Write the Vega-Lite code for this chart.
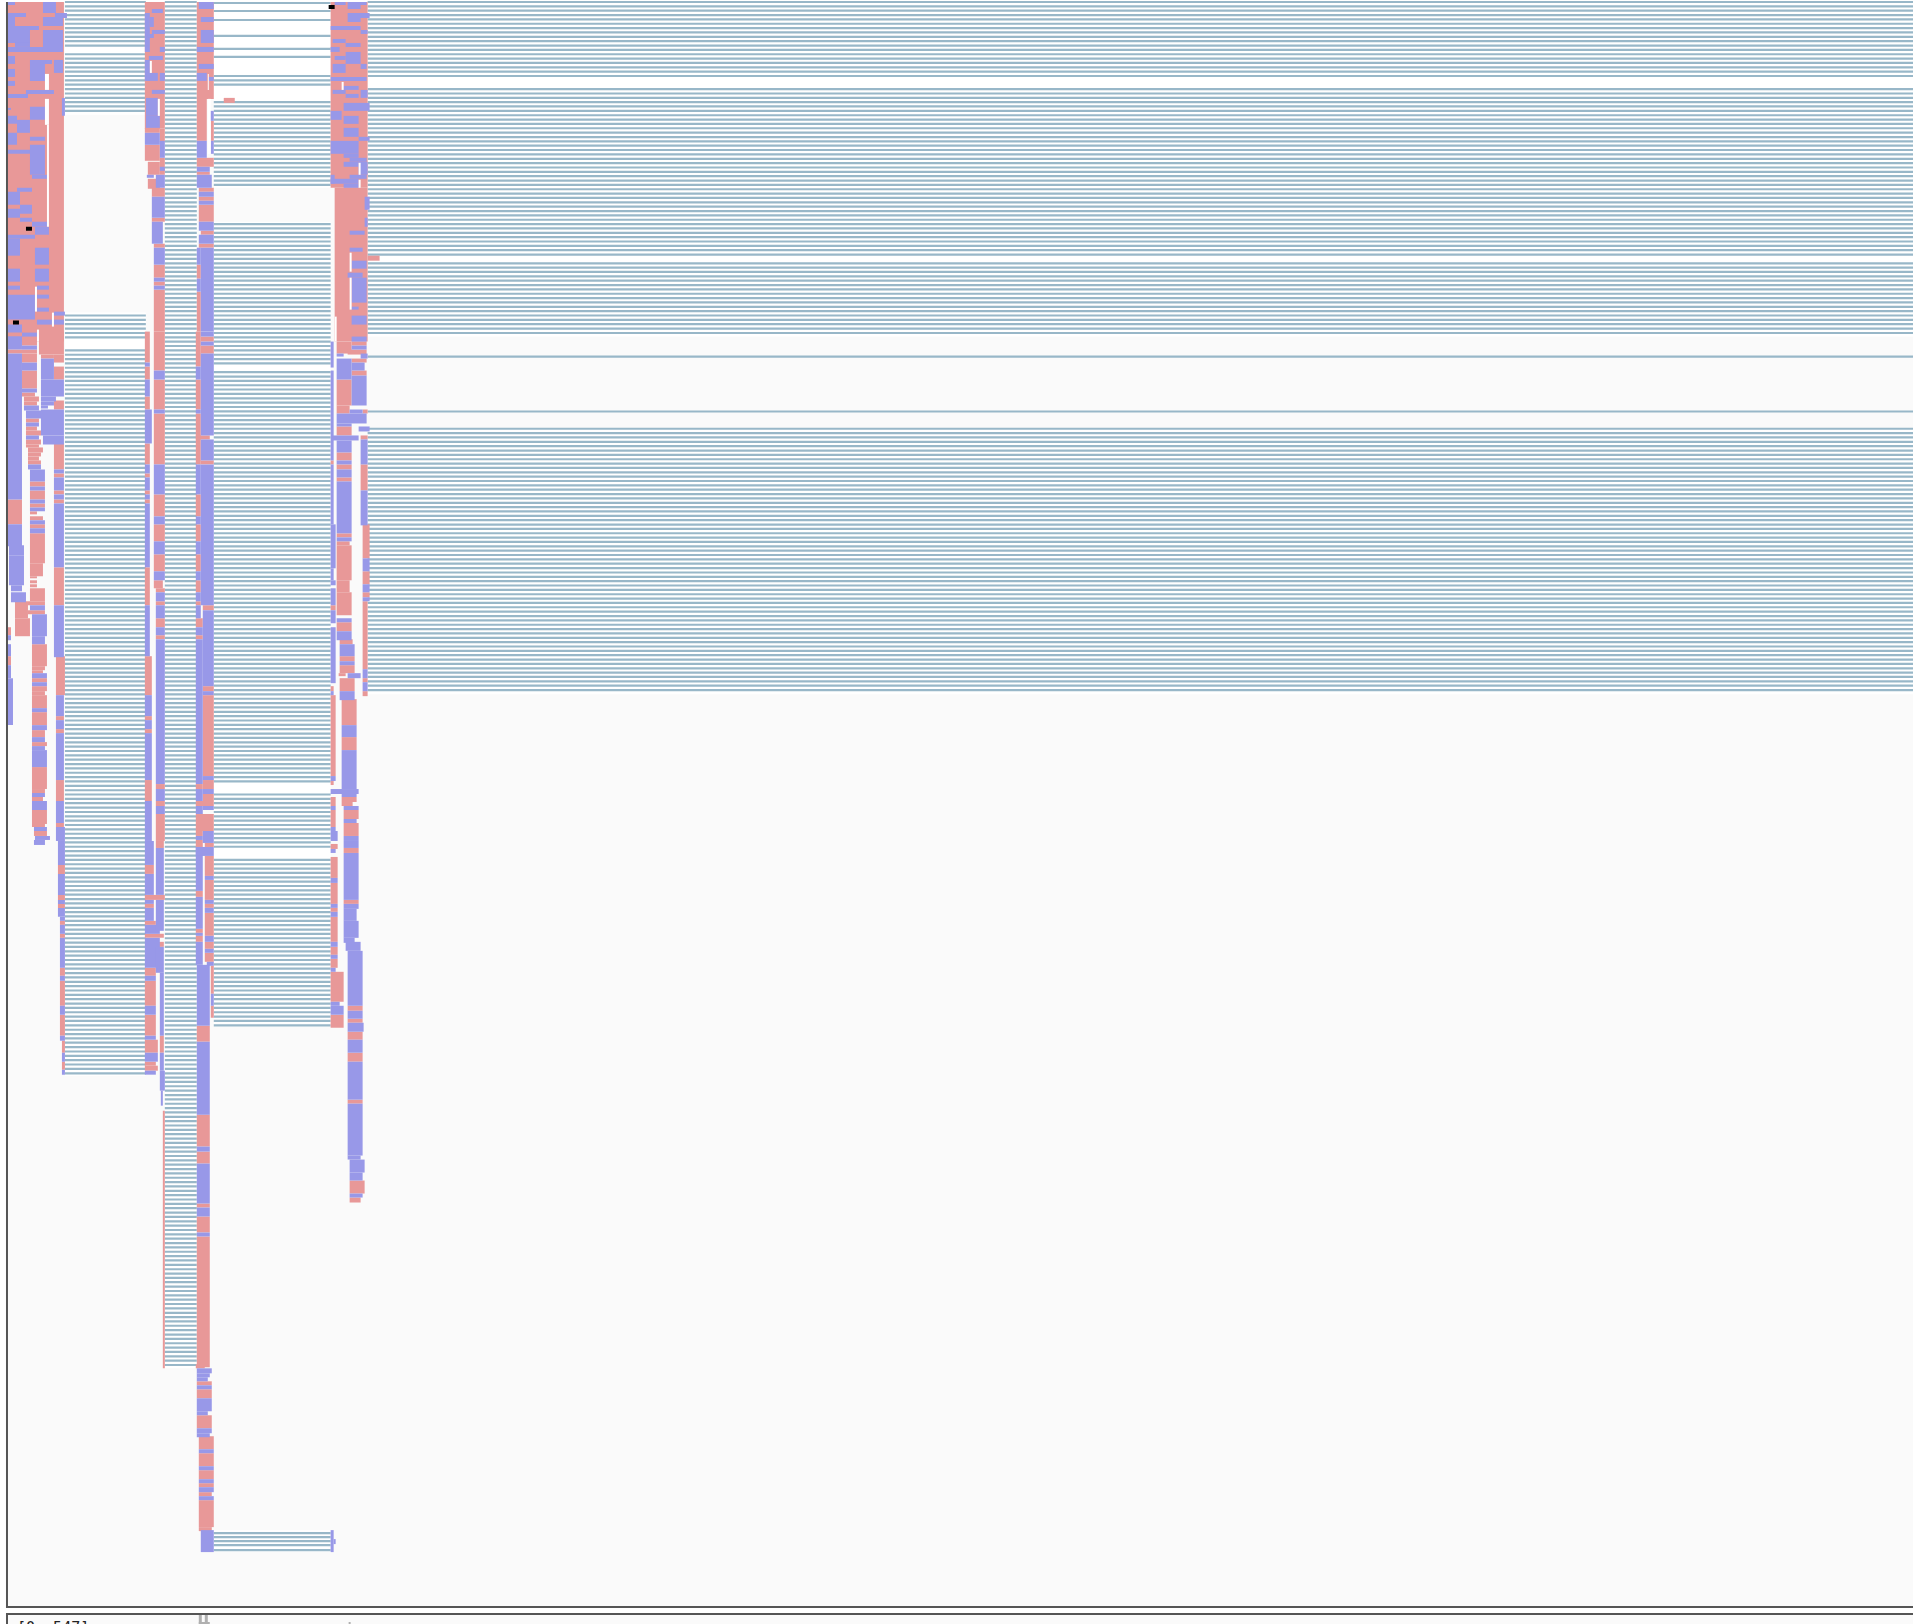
{"$schema":"https://vega.github.io/schema/vega-lite/v6.json","width":1915,"height":1624,"padding":0,"autosize":{"type":"fit","contains":"padding"},"background":"#ffffff","view":{"stroke":null},"config":{"axis":{"disable":true}},
"datasets":{
"panel":[{"a":8,"b":1915,"c":0,"d":1606},{"a":8,"b":1915,"c":1615,"d":1624}],
"border":[{"a":6,"b":8,"c":0,"d":1608},{"a":6,"b":1915,"c":1606,"d":1608},{"a":6,"b":1915,"c":1613,"d":1615},{"a":6,"b":8,"c":1613,"d":1624}],
"tick":[{"a":199,"b":202,"c":1615,"d":1624},{"a":205,"b":208,"c":1615,"d":1624},{"a":199,"b":210,"c":1622,"d":1624},{"a":349,"b":351,"c":1622,"d":1624}],
"clear":[{"a":65,"b":146,"c":0,"d":113},{"a":65,"b":146,"c":311,"d":1075},{"a":165,"b":197,"c":0,"d":1368},{"a":214,"b":331,"c":0,"d":186},{"a":214,"b":331,"c":220,"d":1026},{"a":214,"b":331,"c":1530,"d":1552},{"a":368,"b":1915,"c":0,"d":335},{"a":368,"b":1915,"c":427,"d":693}],
"sparse":[{"a":214,"b":331,"y":1},{"a":214,"b":331,"y":9},{"a":214,"b":331,"y":18},{"a":214,"b":331,"y":34},{"a":214,"b":331,"y":47},{"a":214,"b":331,"y":55},{"a":214,"b":331,"y":1533},{"a":214,"b":331,"y":1537},{"a":214,"b":331,"y":1541},{"a":214,"b":331,"y":1545},{"a":214,"b":331,"y":1550},{"a":368,"b":1915,"y":355},{"a":368,"b":1915,"y":410}],
"lat":[{"y":0},{"y":4.4},{"y":8.7},{"y":13.1},{"y":17.4},{"y":21.8},{"y":26.2},{"y":30.5},{"y":34.9},{"y":39.2},{"y":43.6},{"y":48},{"y":52.3},{"y":56.7},{"y":61},{"y":65.4},{"y":69.8},{"y":74.1},{"y":78.5},{"y":82.8},{"y":87.2},{"y":91.6},{"y":95.9},{"y":100.3},{"y":104.6},
{"y":109},{"y":113.4},{"y":117.7},{"y":122.1},{"y":126.4},{"y":130.8},{"y":135.2},{"y":139.5},{"y":143.9},{"y":148.2},{"y":152.6},{"y":157},{"y":161.3},{"y":165.7},{"y":170},{"y":174.4},{"y":178.8},{"y":183.1},{"y":187.5},{"y":191.8},{"y":196.2},{"y":200.6},{"y":204.9},{"y":209.3},{"y":213.6},
{"y":218},{"y":222.4},{"y":226.7},{"y":231.1},{"y":235.4},{"y":239.8},{"y":244.2},{"y":248.5},{"y":252.9},{"y":257.2},{"y":261.6},{"y":266},{"y":270.3},{"y":274.7},{"y":279},{"y":283.4},{"y":287.8},{"y":292.1},{"y":296.5},{"y":300.8},{"y":305.2},{"y":309.6},{"y":313.9},{"y":318.3},{"y":322.6},
{"y":327},{"y":331.4},{"y":335.7},{"y":340.1},{"y":344.4},{"y":348.8},{"y":353.2},{"y":357.5},{"y":361.9},{"y":366.2},{"y":370.6},{"y":375},{"y":379.3},{"y":383.7},{"y":388},{"y":392.4},{"y":396.8},{"y":401.1},{"y":405.5},{"y":409.8},{"y":414.2},{"y":418.6},{"y":422.9},{"y":427.3},{"y":431.6},
{"y":436},{"y":440.4},{"y":444.7},{"y":449.1},{"y":453.4},{"y":457.8},{"y":462.2},{"y":466.5},{"y":470.9},{"y":475.2},{"y":479.6},{"y":484},{"y":488.3},{"y":492.7},{"y":497},{"y":501.4},{"y":505.8},{"y":510.1},{"y":514.5},{"y":518.8},{"y":523.2},{"y":527.6},{"y":531.9},{"y":536.3},{"y":540.6},
{"y":545},{"y":549.4},{"y":553.7},{"y":558.1},{"y":562.4},{"y":566.8},{"y":571.2},{"y":575.5},{"y":579.9},{"y":584.2},{"y":588.6},{"y":593},{"y":597.3},{"y":601.7},{"y":606},{"y":610.4},{"y":614.8},{"y":619.1},{"y":623.5},{"y":627.8},{"y":632.2},{"y":636.6},{"y":640.9},{"y":645.3},{"y":649.6},
{"y":654},{"y":658.4},{"y":662.7},{"y":667.1},{"y":671.4},{"y":675.8},{"y":680.2},{"y":684.5},{"y":688.9},{"y":693.2},{"y":697.6},{"y":702},{"y":706.3},{"y":710.7},{"y":715},{"y":719.4},{"y":723.8},{"y":728.1},{"y":732.5},{"y":736.8},{"y":741.2},{"y":745.6},{"y":749.9},{"y":754.3},{"y":758.6},
{"y":763},{"y":767.4},{"y":771.7},{"y":776.1},{"y":780.4},{"y":784.8},{"y":789.2},{"y":793.5},{"y":797.9},{"y":802.2},{"y":806.6},{"y":811},{"y":815.3},{"y":819.7},{"y":824},{"y":828.4},{"y":832.8},{"y":837.1},{"y":841.5},{"y":845.8},{"y":850.2},{"y":854.6},{"y":858.9},{"y":863.3},{"y":867.6},
{"y":872},{"y":876.4},{"y":880.7},{"y":885.1},{"y":889.4},{"y":893.8},{"y":898.2},{"y":902.5},{"y":906.9},{"y":911.2},{"y":915.6},{"y":920},{"y":924.3},{"y":928.7},{"y":933},{"y":937.4},{"y":941.8},{"y":946.1},{"y":950.5},{"y":954.8},{"y":959.2},{"y":963.6},{"y":967.9},{"y":972.3},{"y":976.6},
{"y":981},{"y":985.4},{"y":989.7},{"y":994.1},{"y":998.4},{"y":1002.8},{"y":1007.2},{"y":1011.5},{"y":1015.9},{"y":1020.2},{"y":1024.6},{"y":1029},{"y":1033.3},{"y":1037.7},{"y":1042},{"y":1046.4},{"y":1050.8},{"y":1055.1},{"y":1059.5},{"y":1063.8},{"y":1068.2},{"y":1072.6},{"y":1076.9},{"y":1081.3},{"y":1085.6},
{"y":1090},{"y":1094.4},{"y":1098.7},{"y":1103.1},{"y":1107.4},{"y":1111.8},{"y":1116.2},{"y":1120.5},{"y":1124.9},{"y":1129.2},{"y":1133.6},{"y":1138},{"y":1142.3},{"y":1146.7},{"y":1151},{"y":1155.4},{"y":1159.8},{"y":1164.1},{"y":1168.5},{"y":1172.8},{"y":1177.2},{"y":1181.6},{"y":1185.9},{"y":1190.3},{"y":1194.6},
{"y":1199},{"y":1203.4},{"y":1207.7},{"y":1212.1},{"y":1216.4},{"y":1220.8},{"y":1225.2},{"y":1229.5},{"y":1233.9},{"y":1238.2},{"y":1242.6},{"y":1247},{"y":1251.3},{"y":1255.7},{"y":1260},{"y":1264.4},{"y":1268.8},{"y":1273.1},{"y":1277.5},{"y":1281.8},{"y":1286.2},{"y":1290.6},{"y":1294.9},{"y":1299.3},{"y":1303.6},
{"y":1308},{"y":1312.4},{"y":1316.7},{"y":1321.1},{"y":1325.4},{"y":1329.8},{"y":1334.2},{"y":1338.5},{"y":1342.9},{"y":1347.2},{"y":1351.6},{"y":1356},{"y":1360.3},{"y":1364.7}],
"pink":[{"a":8,"b":64,"c":0,"d":340},{"a":145,"b":165,"c":0,"d":127},{"a":197,"b":214,"c":0,"d":97},{"a":331,"b":368,"c":0,"d":186},{"a":335,"b":368,"c":186,"d":340},{"a":224,"b":235,"c":96,"d":101},{"a":368,"b":380,"c":254,"d":259},
{"a":8,"b":22,"c":498,"d":523},{"a":8,"b":37,"c":348,"d":352},{"a":15,"b":28,"c":600,"d":617},{"a":15,"b":30,"c":617,"d":635},{"a":8,"b":11,"c":626,"d":634},{"a":8,"b":11,"c":655,"d":664},
{"a":22,"b":37,"c":335,"d":344},{"a":22,"b":37,"c":352,"d":361},{"a":22,"b":37,"c":369,"d":387},{"a":22,"b":35,"c":391,"d":395},{"a":24,"b":39,"c":395,"d":400},{"a":24,"b":37,"c":400,"d":404},{"a":26,"b":39,"c":417,"d":421},{"a":26,"b":37,"c":425,"d":429},{"a":26,"b":41,"c":429,"d":434},{"a":26,"b":41,"c":438,"d":443},{"a":26,"b":39,"c":443,"d":446},{"a":28,"b":43,"c":446,"d":451},{"a":28,"b":41,"c":451,"d":455},{"a":28,"b":39,"c":455,"d":459},{"a":28,"b":41,"c":459,"d":463},{"a":30,"b":45,"c":480,"d":485},{"a":30,"b":45,"c":489,"d":498},{"a":30,"b":45,"c":502,"d":506},{"a":30,"b":37,"c":510,"d":513},{"a":30,"b":43,"c":515,"d":519},{"a":30,"b":45,"c":523,"d":527},{"a":30,"b":45,"c":532,"d":562},{"a":30,"b":43,"c":562,"d":575},{"a":30,"b":37,"c":575,"d":577},{"a":30,"b":37,"c":579,"d":582},{"a":30,"b":37,"c":583,"d":586},{"a":30,"b":45,"c":587,"d":600},{"a":28,"b":45,"c":600,"d":604},{"a":28,"b":45,"c":609,"d":613},{"a":32,"b":47,"c":643,"d":665},{"a":32,"b":45,"c":665,"d":669},{"a":32,"b":43,"c":669,"d":672},{"a":32,"b":47,"c":677,"d":681},{"a":32,"b":47,"c":685,"d":690},{"a":32,"b":45,"c":690,"d":694},{"a":32,"b":47,"c":694,"d":707},{"a":32,"b":47,"c":711,"d":724},{"a":32,"b":45,"c":729,"d":736},{"a":32,"b":47,"c":741,"d":745},{"a":32,"b":47,"c":766,"d":788},{"a":32,"b":45,"c":788,"d":792},{"a":32,"b":43,"c":796,"d":800},{"a":32,"b":47,"c":809,"d":823},{"a":32,"b":45,"c":823,"d":826},{"a":34,"b":47,"c":830,"d":835},
{"a":39,"b":64,"c":330,"d":353},{"a":41,"b":54,"c":353,"d":357},{"a":54,"b":64,"c":353,"d":361},{"a":54,"b":64,"c":365,"d":378},{"a":54,"b":64,"c":399,"d":408},{"a":54,"b":64,"c":442,"d":468},{"a":54,"b":64,"c":472,"d":476},{"a":54,"b":64,"c":489,"d":493},{"a":54,"b":64,"c":498,"d":502},{"a":54,"b":64,"c":566,"d":604},{"a":56,"b":65,"c":655,"d":694},{"a":56,"b":64,"c":715,"d":719},{"a":56,"b":64,"c":728,"d":732},{"a":56,"b":64,"c":779,"d":800},{"a":56,"b":64,"c":822,"d":826},
{"a":58,"b":65,"c":864,"d":873},{"a":58,"b":65,"c":894,"d":899},{"a":58,"b":65,"c":903,"d":907},{"a":60,"b":65,"c":920,"d":924},{"a":60,"b":65,"c":933,"d":937},{"a":60,"b":65,"c":967,"d":975},{"a":60,"b":65,"c":980,"d":1005},{"a":60,"b":65,"c":1014,"d":1035},{"a":62,"b":65,"c":1040,"d":1052},{"a":62,"b":65,"c":1061,"d":1069},
{"a":145,"b":154,"c":864,"d":873},{"a":145,"b":165,"c":894,"d":899},{"a":145,"b":154,"c":903,"d":907},{"a":145,"b":156,"c":920,"d":924},{"a":145,"b":164,"c":933,"d":937},{"a":145,"b":156,"c":967,"d":975},{"a":145,"b":156,"c":980,"d":1005},{"a":145,"b":156,"c":1014,"d":1035},{"a":145,"b":158,"c":1039,"d":1052},{"a":145,"b":156,"c":1061,"d":1065},{"a":145,"b":158,"c":1065,"d":1070},{"a":156,"b":164,"c":840,"d":847},{"a":156,"b":164,"c":941,"d":946},{"a":160,"b":164,"c":1035,"d":1052},{"a":163,"b":165,"c":1110,"d":1368},
{"a":145,"b":150,"c":330,"d":361},{"a":145,"b":150,"c":365,"d":378},{"a":145,"b":150,"c":395,"d":408},{"a":145,"b":150,"c":442,"d":463},{"a":145,"b":150,"c":472,"d":476},{"a":145,"b":150,"c":489,"d":493},{"a":145,"b":150,"c":498,"d":502},{"a":145,"b":150,"c":566,"d":604},{"a":145,"b":152,"c":655,"d":694},{"a":145,"b":152,"c":715,"d":719},{"a":145,"b":152,"c":728,"d":732},{"a":145,"b":152,"c":779,"d":800},
{"a":154,"b":165,"c":330,"d":369},{"a":154,"b":165,"c":378,"d":408},{"a":154,"b":165,"c":412,"d":463},{"a":154,"b":165,"c":493,"d":515},{"a":154,"b":165,"c":523,"d":540},{"a":154,"b":165,"c":553,"d":570},{"a":154,"b":163,"c":579,"d":587},{"a":156,"b":165,"c":587,"d":591},{"a":156,"b":165,"c":600,"d":604},{"a":156,"b":165,"c":617,"d":626},{"a":156,"b":165,"c":634,"d":638},{"a":156,"b":165,"c":783,"d":788},{"a":156,"b":165,"c":800,"d":805},{"a":156,"b":165,"c":813,"d":840},
{"a":196,"b":201,"c":330,"d":365},{"a":196,"b":201,"c":378,"d":408},{"a":196,"b":201,"c":412,"d":463},{"a":196,"b":210,"c":434,"d":438},{"a":196,"b":201,"c":493,"d":515},{"a":196,"b":201,"c":523,"d":540},{"a":196,"b":201,"c":553,"d":570},{"a":196,"b":201,"c":579,"d":591},{"a":196,"b":201,"c":600,"d":604},{"a":196,"b":203,"c":617,"d":626},{"a":196,"b":203,"c":634,"d":638},{"a":196,"b":203,"c":783,"d":788},{"a":196,"b":214,"c":800,"d":805},{"a":196,"b":214,"c":813,"d":830},
{"a":201,"b":214,"c":335,"d":340},{"a":201,"b":214,"c":344,"d":352},{"a":201,"b":214,"c":459,"d":463},{"a":203,"b":214,"c":604,"d":609},{"a":203,"b":214,"c":685,"d":690},{"a":203,"b":214,"c":694,"d":775},{"a":203,"b":214,"c":779,"d":788},{"a":203,"b":214,"c":793,"d":800},
{"a":196,"b":203,"c":830,"d":835},{"a":196,"b":203,"c":839,"d":846},{"a":196,"b":203,"c":890,"d":896},{"a":196,"b":203,"c":928,"d":932},{"a":196,"b":203,"c":935,"d":941},{"a":197,"b":210,"c":1025,"d":1041},{"a":197,"b":210,"c":1114,"d":1146},{"a":197,"b":210,"c":1151,"d":1163},{"a":197,"b":210,"c":1203,"d":1207},{"a":197,"b":210,"c":1216,"d":1232},{"a":197,"b":210,"c":1236,"d":1367},{"a":196,"b":205,"c":1364,"d":1368},
{"a":205,"b":214,"c":842,"d":846},{"a":205,"b":214,"c":855,"d":875},{"a":205,"b":214,"c":879,"d":899},{"a":205,"b":214,"c":903,"d":907},{"a":205,"b":214,"c":912,"d":935},{"a":205,"b":214,"c":941,"d":948},{"a":205,"b":214,"c":952,"d":961},{"a":211,"b":214,"c":965,"d":993},{"a":211,"b":214,"c":1005,"d":1017},
{"a":197,"b":212,"c":1381,"d":1385},{"a":197,"b":212,"c":1389,"d":1398},{"a":197,"b":212,"c":1415,"d":1428},{"a":199,"b":214,"c":1436,"d":1449},{"a":199,"b":214,"c":1453,"d":1466},{"a":199,"b":214,"c":1470,"d":1479},{"a":199,"b":214,"c":1483,"d":1487},{"a":199,"b":212,"c":1492,"d":1496},{"a":199,"b":214,"c":1500,"d":1527},{"a":199,"b":212,"c":1527,"d":1531},
{"a":160,"b":165,"c":127,"d":140},{"a":145,"b":160,"c":126,"d":131},{"a":145,"b":160,"c":143,"d":159},{"a":148,"b":160,"c":160,"d":173},{"a":160,"b":165,"c":156,"d":173},{"a":148,"b":160,"c":177,"d":187},{"a":152,"b":165,"c":186,"d":195},{"a":152,"b":165,"c":216,"d":220},{"a":154,"b":165,"c":242,"d":246},{"a":154,"b":165,"c":263,"d":276},{"a":154,"b":165,"c":280,"d":284},{"a":154,"b":165,"c":288,"d":330},
{"a":197,"b":207,"c":97,"d":139},{"a":211,"b":214,"c":119,"d":139},{"a":197,"b":214,"c":156,"d":165},{"a":197,"b":210,"c":170,"d":173},{"a":199,"b":214,"c":186,"d":190},{"a":199,"b":214,"c":195,"d":199},{"a":199,"b":214,"c":203,"d":220},{"a":201,"b":214,"c":229,"d":233},{"a":199,"b":214,"c":242,"d":246},{"a":197,"b":201,"c":263,"d":277},{"a":197,"b":201,"c":290,"d":330},
{"a":331,"b":334,"c":459,"d":463},{"a":331,"b":336,"c":604,"d":609},{"a":331,"b":334,"c":685,"d":690},{"a":331,"b":336,"c":694,"d":775},{"a":331,"b":334,"c":780,"d":784},{"a":331,"b":336,"c":796,"d":805},{"a":331,"b":336,"c":809,"d":826},
{"a":337,"b":352,"c":340,"d":352},{"a":337,"b":352,"c":378,"d":404},{"a":337,"b":350,"c":404,"d":412},{"a":337,"b":352,"c":425,"d":434},{"a":337,"b":352,"c":451,"d":459},{"a":337,"b":352,"c":463,"d":468},{"a":337,"b":352,"c":476,"d":480},{"a":337,"b":352,"c":532,"d":536},{"a":337,"b":350,"c":540,"d":544},{"a":337,"b":352,"c":544,"d":579},{"a":337,"b":350,"c":579,"d":591},{"a":337,"b":352,"c":591,"d":614},{"a":337,"b":352,"c":621,"d":630},{"a":340,"b":353,"c":638,"d":643},{"a":340,"b":355,"c":655,"d":660},{"a":340,"b":355,"c":664,"d":672},{"a":339,"b":346,"c":672,"d":675},{"a":340,"b":355,"c":677,"d":690},{"a":342,"b":357,"c":698,"d":724},{"a":342,"b":357,"c":736,"d":749},{"a":342,"b":357,"c":796,"d":801},{"a":342,"b":353,"c":801,"d":805},{"a":344,"b":359,"c":809,"d":818},{"a":344,"b":359,"c":822,"d":835},
{"a":352,"b":367,"c":340,"d":344},{"a":348,"b":367,"c":348,"d":353},{"a":352,"b":367,"c":357,"d":361},{"a":352,"b":367,"c":369,"d":374},{"a":363,"b":368,"c":408,"d":412},{"a":361,"b":368,"c":434,"d":438},{"a":361,"b":368,"c":463,"d":489},{"a":363,"b":370,"c":523,"d":557},{"a":363,"b":370,"c":570,"d":583},{"a":363,"b":370,"c":591,"d":596},{"a":363,"b":368,"c":600,"d":668},{"a":363,"b":368,"c":677,"d":681},{"a":363,"b":368,"c":690,"d":695},
{"a":331,"b":338,"c":843,"d":848},{"a":331,"b":338,"c":856,"d":877},{"a":331,"b":338,"c":882,"d":903},{"a":331,"b":338,"c":907,"d":911},{"a":331,"b":338,"c":916,"d":941},{"a":331,"b":338,"c":946,"d":954},{"a":331,"b":338,"c":958,"d":967},{"a":331,"b":344,"c":971,"d":1001},{"a":331,"b":344,"c":1014,"d":1027},
{"a":344,"b":359,"c":847,"d":852},{"a":344,"b":359,"c":899,"d":903},{"a":348,"b":363,"c":1005,"d":1010},{"a":348,"b":363,"c":1018,"d":1022},{"a":348,"b":363,"c":1031,"d":1039},{"a":348,"b":363,"c":1052,"d":1061},{"a":348,"b":363,"c":1099,"d":1103},{"a":350,"b":365,"c":1180,"d":1193},{"a":350,"b":361,"c":1197,"d":1202}],
"blue":[{"a":8,"b":15,"c":0,"d":3},{"a":43,"b":56,"c":0,"d":11},{"a":8,"b":26,"c":11,"d":15},{"a":55,"b":67,"c":11,"d":16},{"a":8,"b":15,"c":15,"d":24},{"a":43,"b":63,"c":15,"d":24},{"a":8,"b":39,"c":24,"d":28},{"a":8,"b":30,"c":28,"d":41},{"a":15,"b":30,"c":41,"d":45},{"a":43,"b":63,"c":28,"d":50},{"a":8,"b":43,"c":45,"d":50},{"a":8,"b":15,"c":54,"d":62},{"a":30,"b":52,"c":58,"d":62},{"a":30,"b":45,"c":62,"d":79},{"a":54,"b":63,"c":58,"d":71},{"a":8,"b":15,"c":67,"d":75},{"a":8,"b":15,"c":79,"d":84},{"a":26,"b":54,"c":88,"d":92},{"a":8,"b":28,"c":92,"d":96},{"a":30,"b":45,"c":105,"d":118},{"a":8,"b":11,"c":106,"d":108},{"a":8,"b":17,"c":114,"d":122},{"a":17,"b":30,"c":118,"d":131},{"a":8,"b":17,"c":131,"d":143},{"a":30,"b":45,"c":135,"d":139},{"a":30,"b":45,"c":143,"d":173},{"a":8,"b":30,"c":148,"d":152},{"a":32,"b":47,"c":173,"d":177},{"a":17,"b":32,"c":186,"d":190},{"a":8,"b":20,"c":190,"d":203},{"a":20,"b":32,"c":203,"d":212},{"a":8,"b":20,"c":207,"d":216},{"a":20,"b":32,"c":216,"d":220},{"a":32,"b":47,"c":220,"d":225},{"a":35,"b":49,"c":225,"d":233},{"a":8,"b":35,"c":233,"d":237},{"a":8,"b":20,"c":237,"d":254},{"a":35,"b":49,"c":246,"d":263},{"a":8,"b":20,"c":267,"d":280},{"a":35,"b":49,"c":267,"d":280},{"a":8,"b":20,"c":284,"d":288},{"a":37,"b":49,"c":284,"d":288},{"a":37,"b":49,"c":293,"d":297},{"a":8,"b":35,"c":293,"d":318},{"a":37,"b":49,"c":306,"d":310},{"a":54,"b":65,"c":310,"d":314},{"a":37,"b":52,"c":318,"d":323},{"a":54,"b":64,"c":318,"d":323},{"a":8,"b":22,"c":323,"d":331},{"a":22,"b":37,"c":331,"d":335},{"a":8,"b":22,"c":335,"d":340},{"a":62,"b":65,"c":96,"d":114},
{"a":8,"b":22,"c":335,"d":348},{"a":8,"b":22,"c":352,"d":498},{"a":8,"b":22,"c":523,"d":545},{"a":9,"b":24,"c":544,"d":554},{"a":9,"b":24,"c":554,"d":584},{"a":11,"b":22,"c":584,"d":590},{"a":11,"b":26,"c":591,"d":601},{"a":8,"b":11,"c":634,"d":639},{"a":8,"b":11,"c":643,"d":655},{"a":8,"b":11,"c":664,"d":677},{"a":8,"b":13,"c":677,"d":724},
{"a":22,"b":37,"c":344,"d":348},{"a":22,"b":37,"c":361,"d":369},{"a":22,"b":37,"c":387,"d":391},{"a":24,"b":39,"c":404,"d":409},{"a":26,"b":63,"c":409,"d":417},{"a":26,"b":39,"c":421,"d":425},{"a":26,"b":39,"c":434,"d":438},{"a":28,"b":41,"c":463,"d":468},{"a":30,"b":45,"c":468,"d":480},{"a":30,"b":45,"c":485,"d":489},{"a":30,"b":45,"c":498,"d":502},{"a":30,"b":45,"c":506,"d":510},{"a":30,"b":45,"c":519,"d":523},{"a":30,"b":45,"c":527,"d":532},{"a":30,"b":45,"c":604,"d":609},{"a":32,"b":47,"c":613,"d":635},{"a":32,"b":45,"c":635,"d":643},{"a":32,"b":47,"c":672,"d":677},{"a":32,"b":47,"c":681,"d":685},{"a":32,"b":47,"c":707,"d":711},{"a":32,"b":47,"c":724,"d":729},{"a":32,"b":45,"c":736,"d":741},{"a":32,"b":45,"c":745,"d":749},{"a":32,"b":47,"c":749,"d":766},{"a":32,"b":45,"c":792,"d":796},{"a":32,"b":47,"c":800,"d":809},{"a":34,"b":47,"c":826,"d":830},{"a":35,"b":50,"c":835,"d":839},{"a":34,"b":45,"c":839,"d":844},
{"a":41,"b":54,"c":357,"d":378},{"a":41,"b":64,"c":378,"d":395},{"a":41,"b":56,"c":395,"d":400},{"a":41,"b":54,"c":400,"d":404},{"a":41,"b":48,"c":404,"d":407},{"a":41,"b":64,"c":408,"d":434},{"a":43,"b":64,"c":434,"d":443},{"a":54,"b":64,"c":468,"d":472},{"a":54,"b":64,"c":476,"d":489},{"a":54,"b":64,"c":493,"d":498},{"a":54,"b":64,"c":502,"d":566},{"a":54,"b":64,"c":604,"d":656},{"a":56,"b":64,"c":694,"d":715},{"a":56,"b":64,"c":719,"d":728},{"a":56,"b":64,"c":732,"d":779},{"a":56,"b":64,"c":800,"d":822},{"a":56,"b":65,"c":826,"d":840},
{"a":58,"b":65,"c":840,"d":864},{"a":58,"b":65,"c":873,"d":894},{"a":58,"b":65,"c":899,"d":903},{"a":58,"b":65,"c":907,"d":916},{"a":60,"b":65,"c":916,"d":920},{"a":60,"b":65,"c":924,"d":933},{"a":60,"b":65,"c":937,"d":967},{"a":60,"b":65,"c":975,"d":980},{"a":60,"b":65,"c":1005,"d":1014},{"a":60,"b":65,"c":1035,"d":1040},{"a":62,"b":65,"c":1052,"d":1061},{"a":62,"b":65,"c":1069,"d":1074},
{"a":145,"b":154,"c":840,"d":864},{"a":145,"b":154,"c":873,"d":894},{"a":145,"b":154,"c":899,"d":903},{"a":145,"b":154,"c":907,"d":920},{"a":145,"b":160,"c":924,"d":933},{"a":145,"b":160,"c":937,"d":967},{"a":145,"b":156,"c":975,"d":980},{"a":145,"b":156,"c":1005,"d":1014},{"a":145,"b":156,"c":1035,"d":1039},{"a":145,"b":158,"c":1052,"d":1061},{"a":145,"b":156,"c":1070,"d":1074},{"a":156,"b":164,"c":847,"d":894},{"a":156,"b":164,"c":899,"d":930},{"a":156,"b":164,"c":946,"d":972},{"a":160,"b":164,"c":972,"d":1035},{"a":160,"b":164,"c":1052,"d":1070},{"a":160,"b":165,"c":1070,"d":1090},{"a":161,"b":163,"c":1090,"d":1105},
{"a":145,"b":150,"c":361,"d":365},{"a":145,"b":150,"c":378,"d":395},{"a":145,"b":152,"c":408,"d":442},{"a":145,"b":150,"c":463,"d":472},{"a":145,"b":150,"c":476,"d":489},{"a":145,"b":150,"c":493,"d":498},{"a":145,"b":150,"c":502,"d":566},{"a":145,"b":150,"c":604,"d":655},{"a":145,"b":152,"c":694,"d":715},{"a":145,"b":152,"c":719,"d":728},{"a":145,"b":152,"c":732,"d":779},{"a":145,"b":152,"c":800,"d":840},
{"a":154,"b":165,"c":369,"d":378},{"a":154,"b":165,"c":408,"d":412},{"a":154,"b":165,"c":463,"d":493},{"a":154,"b":165,"c":515,"d":523},{"a":154,"b":165,"c":540,"d":553},{"a":154,"b":165,"c":570,"d":579},{"a":156,"b":165,"c":591,"d":600},{"a":156,"b":165,"c":604,"d":617},{"a":156,"b":165,"c":626,"d":634},{"a":156,"b":165,"c":638,"d":783},{"a":156,"b":165,"c":788,"d":800},{"a":156,"b":165,"c":805,"d":813},
{"a":196,"b":201,"c":365,"d":378},{"a":196,"b":201,"c":408,"d":412},{"a":196,"b":201,"c":463,"d":493},{"a":196,"b":201,"c":515,"d":523},{"a":196,"b":201,"c":540,"d":553},{"a":196,"b":201,"c":570,"d":579},{"a":196,"b":201,"c":591,"d":600},{"a":196,"b":201,"c":604,"d":617},{"a":196,"b":203,"c":626,"d":634},{"a":196,"b":203,"c":638,"d":783},{"a":196,"b":203,"c":788,"d":800},{"a":196,"b":203,"c":805,"d":813},
{"a":201,"b":214,"c":330,"d":335},{"a":201,"b":214,"c":340,"d":344},{"a":201,"b":214,"c":352,"d":434},{"a":201,"b":214,"c":438,"d":459},{"a":201,"b":214,"c":463,"d":604},{"a":203,"b":214,"c":609,"d":685},{"a":203,"b":214,"c":690,"d":694},{"a":203,"b":214,"c":775,"d":779},{"a":203,"b":214,"c":788,"d":793},{"a":203,"b":214,"c":805,"d":809},
{"a":196,"b":203,"c":835,"d":839},{"a":196,"b":203,"c":846,"d":890},{"a":196,"b":203,"c":896,"d":928},{"a":196,"b":203,"c":932,"d":935},{"a":196,"b":203,"c":941,"d":964},{"a":197,"b":210,"c":964,"d":1025},{"a":197,"b":210,"c":1041,"d":1114},{"a":197,"b":210,"c":1146,"d":1151},{"a":197,"b":210,"c":1163,"d":1203},{"a":197,"b":210,"c":1207,"d":1216},{"a":197,"b":210,"c":1232,"d":1236},{"a":197,"b":212,"c":1368,"d":1373},{"a":197,"b":210,"c":1373,"d":1377},{"a":197,"b":208,"c":1377,"d":1381},
{"a":203,"b":214,"c":830,"d":842},{"a":196,"b":214,"c":846,"d":855},{"a":205,"b":214,"c":875,"d":879},{"a":205,"b":214,"c":899,"d":903},{"a":205,"b":214,"c":907,"d":912},{"a":205,"b":214,"c":935,"d":941},{"a":205,"b":214,"c":948,"d":952},{"a":207,"b":214,"c":961,"d":965},{"a":211,"b":214,"c":993,"d":1005},
{"a":197,"b":212,"c":1385,"d":1389},{"a":197,"b":212,"c":1398,"d":1411},{"a":197,"b":208,"c":1411,"d":1415},{"a":197,"b":212,"c":1428,"d":1433},{"a":197,"b":210,"c":1433,"d":1437},{"a":199,"b":214,"c":1449,"d":1453},{"a":199,"b":214,"c":1466,"d":1470},{"a":199,"b":214,"c":1479,"d":1483},{"a":199,"b":214,"c":1487,"d":1492},{"a":199,"b":214,"c":1496,"d":1500},{"a":201,"b":214,"c":1530,"d":1552},{"a":331,"b":334,"c":1530,"d":1552},{"a":334,"b":336,"c":1539,"d":1544},
{"a":152,"b":163,"c":7,"d":11},{"a":145,"b":150,"c":11,"d":50},{"a":150,"b":154,"c":15,"d":25},{"a":152,"b":165,"c":28,"d":32},{"a":148,"b":154,"c":32,"d":36},{"a":160,"b":165,"c":45,"d":50},{"a":149,"b":163,"c":54,"d":58},{"a":145,"b":150,"c":58,"d":79},{"a":147,"b":158,"c":71,"d":79},{"a":160,"b":165,"c":71,"d":79},{"a":152,"b":165,"c":88,"d":92},{"a":146,"b":158,"c":96,"d":114},{"a":146,"b":160,"c":114,"d":126},{"a":145,"b":160,"c":131,"d":143},{"a":160,"b":165,"c":139,"d":156},{"a":160,"b":165,"c":165,"d":169},{"a":147,"b":154,"c":173,"d":176},{"a":156,"b":165,"c":173,"d":186},{"a":152,"b":165,"c":195,"d":216},{"a":152,"b":163,"c":220,"d":242},{"a":154,"b":165,"c":246,"d":263},{"a":154,"b":165,"c":276,"d":280},{"a":154,"b":165,"c":284,"d":288},
{"a":199,"b":214,"c":0,"d":7},{"a":201,"b":214,"c":15,"d":20},{"a":201,"b":214,"c":28,"d":41},{"a":197,"b":214,"c":45,"d":50},{"a":199,"b":214,"c":62,"d":67},{"a":197,"b":207,"c":71,"d":79},{"a":209,"b":214,"c":75,"d":79},{"a":209,"b":214,"c":109,"d":119},{"a":197,"b":207,"c":139,"d":156},{"a":211,"b":214,"c":139,"d":152},{"a":197,"b":210,"c":165,"d":170},{"a":197,"b":212,"c":173,"d":186},{"a":199,"b":214,"c":190,"d":195},{"a":199,"b":214,"c":199,"d":203},{"a":199,"b":214,"c":220,"d":229},{"a":199,"b":214,"c":233,"d":242},{"a":201,"b":214,"c":246,"d":330},{"a":197,"b":201,"c":246,"d":263},{"a":197,"b":201,"c":277,"d":290},
{"a":335,"b":346,"c":0,"d":3},{"a":348,"b":361,"c":0,"d":7},{"a":357,"b":367,"c":0,"d":3},{"a":348,"b":370,"c":11,"d":16},{"a":348,"b":361,"c":16,"d":20},{"a":331,"b":361,"c":24,"d":28},{"a":361,"b":368,"c":28,"d":32},{"a":333,"b":346,"c":37,"d":41},{"a":346,"b":361,"c":41,"d":45},{"a":331,"b":340,"c":45,"d":50},{"a":346,"b":361,"c":50,"d":62},{"a":335,"b":346,"c":54,"d":58},{"a":333,"b":346,"c":62,"d":71},{"a":361,"b":367,"c":62,"d":67},{"a":331,"b":367,"c":75,"d":79},{"a":344,"b":359,"c":84,"d":88},{"a":361,"b":368,"c":88,"d":96},{"a":333,"b":346,"c":88,"d":92},{"a":346,"b":359,"c":92,"d":96},{"a":344,"b":370,"c":101,"d":109},{"a":331,"b":342,"c":109,"d":118},{"a":344,"b":359,"c":114,"d":122},{"a":344,"b":359,"c":126,"d":135},{"a":359,"b":370,"c":135,"d":139},{"a":331,"b":359,"c":139,"d":152},{"a":344,"b":359,"c":152,"d":156},{"a":350,"b":367,"c":156,"d":160},{"a":344,"b":359,"c":160,"d":165},{"a":359,"b":368,"c":160,"d":173},{"a":331,"b":335,"c":173,"d":182},{"a":350,"b":367,"c":173,"d":177},{"a":331,"b":359,"c":177,"d":182},{"a":344,"b":359,"c":182,"d":186},{"a":365,"b":370,"c":195,"d":208},{"a":365,"b":368,"c":216,"d":225},{"a":350,"b":365,"c":229,"d":233},{"a":350,"b":363,"c":246,"d":250},{"a":352,"b":367,"c":259,"d":267},{"a":348,"b":363,"c":271,"d":276},{"a":352,"b":367,"c":276,"d":301},{"a":352,"b":359,"c":305,"d":308},{"a":352,"b":367,"c":314,"d":323},{"a":352,"b":367,"c":335,"d":340},
{"a":331,"b":334,"c":340,"d":366},{"a":331,"b":334,"c":369,"d":459},{"a":331,"b":334,"c":463,"d":523},{"a":331,"b":336,"c":523,"d":567},{"a":331,"b":334,"c":567,"d":579},{"a":331,"b":336,"c":579,"d":584},{"a":331,"b":336,"c":587,"d":604},{"a":331,"b":336,"c":609,"d":622},{"a":331,"b":336,"c":626,"d":682},{"a":331,"b":334,"c":690,"d":694},{"a":331,"b":336,"c":775,"d":780},{"a":331,"b":359,"c":788,"d":793},{"a":331,"b":336,"c":805,"d":809},{"a":331,"b":336,"c":826,"d":830},{"a":331,"b":338,"c":830,"d":840},
{"a":337,"b":344,"c":352,"d":355},{"a":337,"b":352,"c":357,"d":378},{"a":337,"b":367,"c":412,"d":422},{"a":337,"b":352,"c":422,"d":425},{"a":333,"b":359,"c":434,"d":439},{"a":337,"b":352,"c":439,"d":451},{"a":337,"b":352,"c":459,"d":463},{"a":337,"b":352,"c":468,"d":476},{"a":337,"b":352,"c":480,"d":532},{"a":337,"b":352,"c":536,"d":540},{"a":337,"b":352,"c":617,"d":621},{"a":337,"b":352,"c":630,"d":639},{"a":340,"b":355,"c":643,"d":655},{"a":340,"b":355,"c":660,"d":664},{"a":348,"b":361,"c":672,"d":677},{"a":340,"b":355,"c":690,"d":699},{"a":342,"b":357,"c":724,"d":736},{"a":342,"b":357,"c":749,"d":788},{"a":342,"b":357,"c":793,"d":796},{"a":344,"b":359,"c":805,"d":809},{"a":344,"b":357,"c":818,"d":822},{"a":344,"b":359,"c":835,"d":840},
{"a":352,"b":367,"c":344,"d":348},{"a":361,"b":368,"c":352,"d":357},{"a":352,"b":365,"c":361,"d":369},{"a":352,"b":367,"c":374,"d":404},{"a":350,"b":363,"c":408,"d":412},{"a":359,"b":370,"c":425,"d":430},{"a":361,"b":368,"c":438,"d":463},{"a":361,"b":368,"c":489,"d":524},{"a":363,"b":370,"c":557,"d":570},{"a":363,"b":370,"c":583,"d":591},{"a":363,"b":370,"c":596,"d":600},{"a":363,"b":368,"c":668,"d":677},{"a":363,"b":368,"c":681,"d":690},
{"a":331,"b":336,"c":848,"d":852},{"a":331,"b":338,"c":877,"d":882},{"a":331,"b":338,"c":903,"d":907},{"a":331,"b":338,"c":911,"d":916},{"a":331,"b":338,"c":941,"d":946},{"a":331,"b":338,"c":954,"d":958},{"a":331,"b":336,"c":967,"d":971},{"a":331,"b":340,"c":1001,"d":1005},{"a":331,"b":344,"c":1005,"d":1014},
{"a":344,"b":359,"c":840,"d":847},{"a":344,"b":359,"c":852,"d":899},{"a":344,"b":359,"c":903,"d":908},{"a":344,"b":357,"c":908,"d":920},{"a":344,"b":359,"c":920,"d":937},{"a":344,"b":355,"c":937,"d":942},{"a":346,"b":361,"c":941,"d":950},{"a":348,"b":363,"c":950,"d":1005},{"a":348,"b":363,"c":1010,"d":1018},{"a":348,"b":364,"c":1022,"d":1031},{"a":348,"b":363,"c":1039,"d":1052},{"a":348,"b":363,"c":1061,"d":1099},{"a":348,"b":363,"c":1103,"d":1155},{"a":348,"b":361,"c":1155,"d":1159},{"a":350,"b":365,"c":1159,"d":1172},{"a":350,"b":363,"c":1172,"d":1180},{"a":350,"b":363,"c":1193,"d":1197}],
"gap":[{"a":45,"b":49,"c":72,"d":88},{"a":45,"b":49,"c":97,"d":123},{"a":47,"b":49,"c":123,"d":225},{"a":35,"b":37,"c":285,"d":310},{"a":37,"b":39,"c":328,"d":340},{"a":52,"b":54,"c":311,"d":325},{"a":150,"b":152,"c":59,"d":71},{"a":158,"b":160,"c":97,"d":114},{"a":208,"b":209,"c":72,"d":88},{"a":208,"b":211,"c":97,"d":152},{"a":350,"b":352,"c":251,"d":270},{"a":350,"b":352,"c":276,"d":308},{"a":342,"b":344,"c":80,"d":88},{"a":359,"b":361,"c":161,"d":173},{"a":359,"b":361,"c":178,"d":186},{"a":335,"b":337,"c":315,"d":340}],
"mark":[{"a":26,"b":32,"c":225,"d":229},{"a":13,"b":19,"c":319,"d":323},{"a":329,"b":335,"c":3,"d":7}],
"label":[{"t":"[0..547]","a":17,"y":1621}]
},
"layer":[
{"encoding":{"x":{"field":"a","type":"quantitative","scale":{"domain":[0,1915],"nice":false,"zero":false}},"x2":{"field":"b"},"y":{"field":"c","type":"quantitative","scale":{"domain":[0,1624],"nice":false,"zero":false,"reverse":true}},"y2":{"field":"d"}},
"layer":[
{"data":{"name":"panel"},"mark":{"type":"rect","color":"#fafafa"}},
{"data":{"name":"clear"},"mark":{"type":"rect","color":"#ffffff"}},
{"data":{"name":"border"},"mark":{"type":"rect","color":"#555555"}},
{"data":{"name":"tick"},"mark":{"type":"rect","color":"#b0b0b0"}}
]},
{"data":{"name":"lat"},"transform":[{"filter":{"or":[{"field":"y","range":[0,45]},{"field":"y","range":[51,113]},{"field":"y","range":[311,340]},{"field":"y","range":[346,1075]}]}}],"mark":{"type":"rule","color":"#98b7c8","strokeWidth":2.2},"encoding":{"x":{"datum":65,"type":"quantitative","scale":{"domain":[0,1915],"nice":false,"zero":false}},"x2":{"datum":146},"y":{"field":"y","type":"quantitative","scale":{"domain":[0,1624],"nice":false,"zero":false,"reverse":true}}}},
{"data":{"name":"lat"},"mark":{"type":"rule","color":"#98b7c8","strokeWidth":2.2},"encoding":{"x":{"datum":165,"type":"quantitative","scale":{"domain":[0,1915],"nice":false,"zero":false}},"x2":{"datum":197},"y":{"field":"y","type":"quantitative","scale":{"domain":[0,1624],"nice":false,"zero":false,"reverse":true}}}},
{"data":{"name":"lat"},"transform":[{"filter":{"or":[{"field":"y","range":[72,87]},{"field":"y","range":[100,186]},{"field":"y","range":[220,364]},{"field":"y","range":[370,782]},{"field":"y","range":[790,850]},{"field":"y","range":[856,1026]}]}}],"mark":{"type":"rule","color":"#98b7c8","strokeWidth":2.2},"encoding":{"x":{"datum":214,"type":"quantitative","scale":{"domain":[0,1915],"nice":false,"zero":false}},"x2":{"datum":331},"y":{"field":"y","type":"quantitative","scale":{"domain":[0,1624],"nice":false,"zero":false,"reverse":true}}}},
{"data":{"name":"lat"},"transform":[{"filter":{"or":[{"field":"y","range":[0,75]},{"field":"y","range":[83,253]},{"field":"y","range":[260,335]},{"field":"y","range":[427,693]}]}}],"mark":{"type":"rule","color":"#98b7c8","strokeWidth":2.2},"encoding":{"x":{"datum":368,"type":"quantitative","scale":{"domain":[0,1915],"nice":false,"zero":false}},"x2":{"datum":1915},"y":{"field":"y","type":"quantitative","scale":{"domain":[0,1624],"nice":false,"zero":false,"reverse":true}}}},
{"data":{"name":"sparse"},"mark":{"type":"rule","color":"#98b7c8","strokeWidth":2.2},"encoding":{"x":{"field":"a","type":"quantitative","scale":{"domain":[0,1915],"nice":false,"zero":false}},"x2":{"field":"b"},"y":{"field":"y","type":"quantitative","scale":{"domain":[0,1624],"nice":false,"zero":false,"reverse":true}}}},
{"encoding":{"x":{"field":"a","type":"quantitative","scale":{"domain":[0,1915],"nice":false,"zero":false}},"x2":{"field":"b"},"y":{"field":"c","type":"quantitative","scale":{"domain":[0,1624],"nice":false,"zero":false,"reverse":true}},"y2":{"field":"d"}},
"layer":[
{"data":{"name":"pink"},"mark":{"type":"rect","color":"#e89898"}},
{"data":{"name":"blue"},"mark":{"type":"rect","color":"#9898e8"}},
{"data":{"name":"gap"},"mark":{"type":"rect","color":"#ffffff"}},
{"data":{"name":"mark"},"mark":{"type":"rect","color":"#000000"}}
]},
{"data":{"name":"label"},"mark":{"type":"text","clip":true,"align":"left","baseline":"top","font":"DejaVu Sans Mono","fontSize":15,"color":"#222222"},"encoding":{"x":{"field":"a","type":"quantitative","scale":{"domain":[0,1915],"nice":false,"zero":false}},"y":{"field":"y","type":"quantitative","scale":{"domain":[0,1624],"nice":false,"zero":false,"reverse":true}},"text":{"field":"t"}}}
]}
